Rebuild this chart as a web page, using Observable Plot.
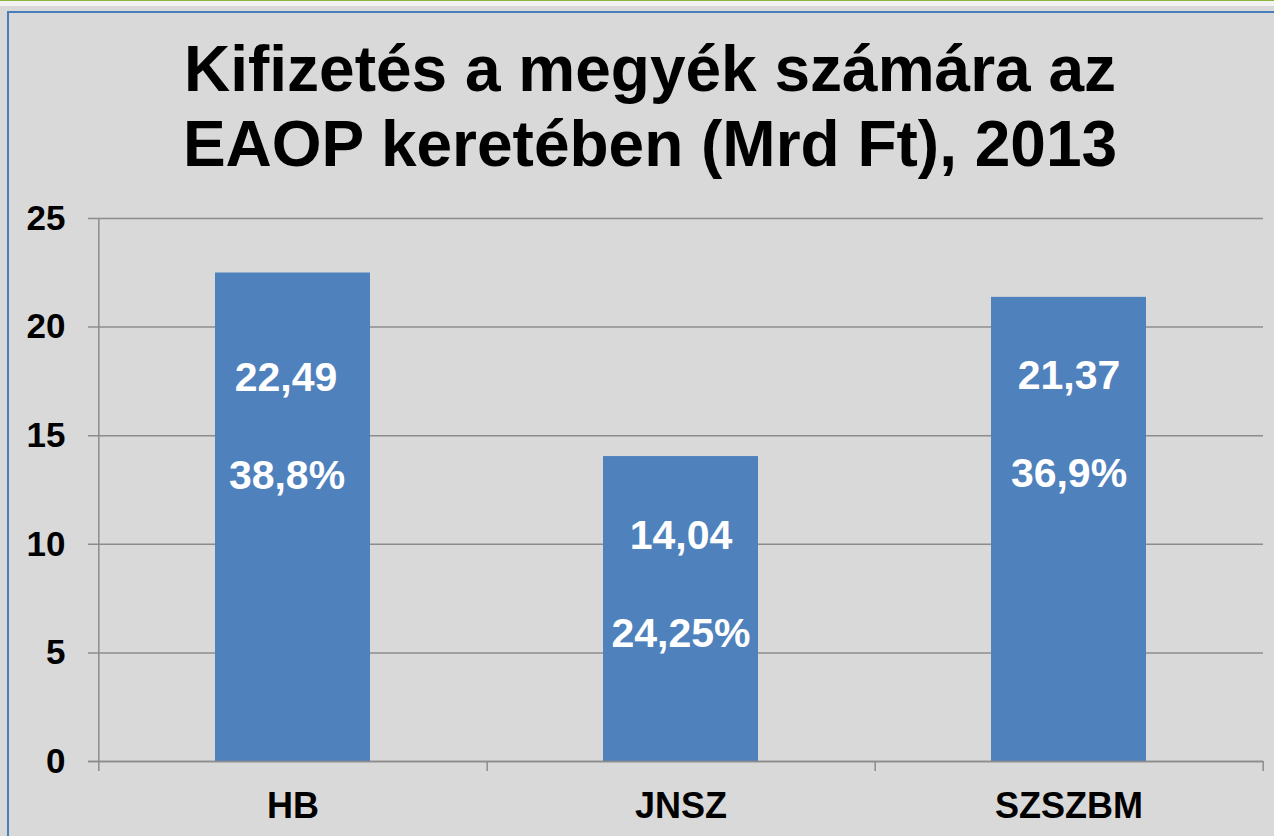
<!DOCTYPE html>
<html>
<head>
<meta charset="utf-8">
<script src="https://cdn.jsdelivr.net/npm/d3@7"></script>
<script src="https://cdn.jsdelivr.net/npm/@observablehq/plot@0.6"></script>
<style>
  html, body { margin: 0; padding: 0; width: 1274px; height: 836px; overflow: hidden; background: #d9d9d9; font-family: "Liberation Sans", Arial, sans-serif; }
  #green { position: absolute; left: 0; top: 0; width: 1274px; height: 1px; background: #8db43c; }
  #white { position: absolute; left: 0; top: 1px; width: 1274px; height: 5px; background: #f2f2f2; }
  #frame { position: absolute; left: 7px; top: 11px; width: 1280px; height: 900px; border-top: 2px solid #4a7ebb; border-left: 2px solid #4a7ebb; }
  #title { position: absolute; left: 26px; top: 32px; width: 1248px; text-align: center; font-size: 64px; line-height: 75px; font-weight: bold; color: #000; }
  #chart { position: absolute; left: 0; top: 190px; }
</style>
</head>
<body>
<div id="green"></div>
<div id="white"></div>
<div id="frame"></div>
<div id="title">Kifizetés a megyék számára az<br>EAOP keretében (Mrd Ft), 2013</div>
<div id="chart"></div>
<script>
const categories = ["HB", "JNSZ", "SZSZBM"];
const values = [22.49, 14.04, 21.37];
const shares = [38.8, 24.25, 36.9];
const yTicks = [0, 5, 10, 15, 20, 25];

const data = categories.map((c, i) => ({cat: c, value: values[i], share: shares[i]}));
const fmt = v => String(v).replace(".", ",");

const W = 1274, H = 646, ml = 98, mr = 11, mt = 28, mb = 75;
const step = (W - ml - mr) / categories.length;
const gridColor = "#8c8c8c";
const barColor = "#4f81bd";

const labelStyle = {x: "cat", y: "value", fill: "white", fontSize: 41, fontWeight: "bold"};
const isFirst = d => d.cat === categories[0];

const chart = Plot.plot({
  width: W,
  height: H,
  marginLeft: ml,
  marginRight: mr,
  marginTop: mt,
  marginBottom: mb,
  style: {background: "transparent", fontFamily: "Liberation Sans, Arial, sans-serif", overflow: "visible", color: "#000"},
  x: {domain: categories, paddingInner: 0.6, paddingOuter: 0.3, label: null},
  y: {domain: [0, 25], label: null},
  marks: [
    Plot.ruleY(yTicks, {stroke: gridColor, strokeWidth: 1.5, insetLeft: -10}),
    Plot.ruleX([categories[0]], {x: d => d, y1: 25, y2: 0, dx: -step / 2, insetBottom: -10, stroke: gridColor, strokeWidth: 1.5}),
    Plot.barY(data, {x: "cat", y: "value", fill: barColor}),
    Plot.ruleY([0], {stroke: gridColor, strokeWidth: 1.5, insetLeft: -10}),
    Plot.ruleX(categories, {x: d => d, y1: 0, y2: 0, dx: step / 2, insetBottom: -10, stroke: gridColor, strokeWidth: 1.5}),
    Plot.text(data, {...labelStyle, text: d => fmt(d.value), dy: 79, filter: d => !isFirst(d)}),
    Plot.text(data, {...labelStyle, text: d => fmt(d.value), dy: 105, dx: -7, filter: isFirst}),
    Plot.text(data, {...labelStyle, text: d => fmt(d.share) + "%", dy: 177, filter: d => !isFirst(d)}),
    Plot.text(data, {...labelStyle, text: d => fmt(d.share) + "%", dy: 203, dx: -6, filter: isFirst}),
    Plot.axisY({ticks: yTicks, tickSize: 0, tickPadding: 33, fontSize: 35, fontWeight: "bold", label: null, tickFormat: d => String(d)}),
    Plot.axisX({tickSize: 0, tickPadding: 31, fontSize: 36, fontWeight: "bold", label: null})
  ]
});
document.getElementById("chart").appendChild(chart);
</script>
</body>
</html>
